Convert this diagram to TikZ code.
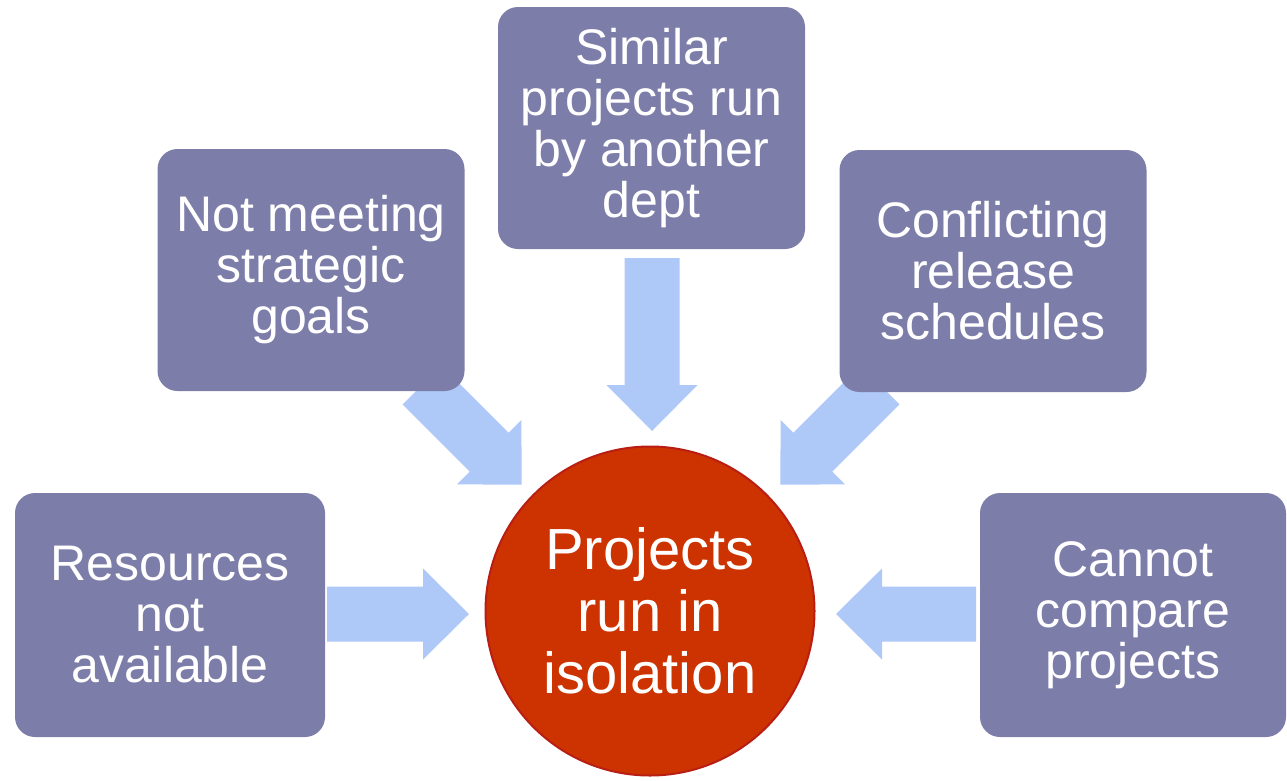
\documentclass[tikz,border=0pt]{standalone}
\usepackage{fontspec}
\setmainfont{Liberation Sans}
\definecolor{boxfill}{RGB}{125,125,170}
\definecolor{arrowfill}{RGB}{174,200,247}
\definecolor{hubfill}{RGB}{204,51,0}
\definecolor{hubdraw}{RGB}{185,30,20}
\newcommand{\blockarrow}[4]{%
  \fill[arrowfill, shift={(#1,#2)}, rotate=#3]
    (0,-27.5) -- (#4,-27.5) -- (#4,-45.5) -- ({#4+46},0) -- (#4,45.5) -- (#4,27.5) -- (0,27.5) -- cycle;}
\tikzset{
  causebox/.style={fill=boxfill, rounded corners=20pt, minimum width=307pt, minimum height=242pt,
    text=white, align=center, font=\fontsize{50}{51}\selectfont, inner sep=0pt},
  hub/.style={circle, fill=hubfill, draw=hubdraw, line width=2pt, minimum size=329pt,
    text=white, align=center, font=\fontsize{58}{62}\selectfont, inner sep=0pt}
}
\begin{document}
\begin{tikzpicture}[x=1pt,y=-1pt]
\useasboundingbox (0,0) rectangle (1287,780);
% block arrows (drawn beneath the boxes)
\blockarrow{327}{614}{0}{96}
\blockarrow{976}{614}{180}{94}
\blockarrow{652}{258}{-90}{127}
\blockarrow{422}{385}{-45}{95}
\blockarrow{880}{385}{-135}{95}
% boxes
\node[causebox] (top) at (651.5,128) {Similar\\projects run\\by another\\dept};
\node[causebox] (ul) at (311,270) {Not meeting\\strategic\\goals};
\node[causebox] (ur) at (993,271) {Conflicting\\release\\schedules};
\node[causebox, minimum width=310pt, minimum height=244pt] (left) at (170,615) {Resources\\not\\available};
\node[causebox, minimum width=306pt, minimum height=244pt] (right) at (1133,615) {Cannot\\compare\\projects};
% hub
\node[hub] (hub) at (650,611) {Projects\\run in\\isolation};
\end{tikzpicture}
\end{document}
